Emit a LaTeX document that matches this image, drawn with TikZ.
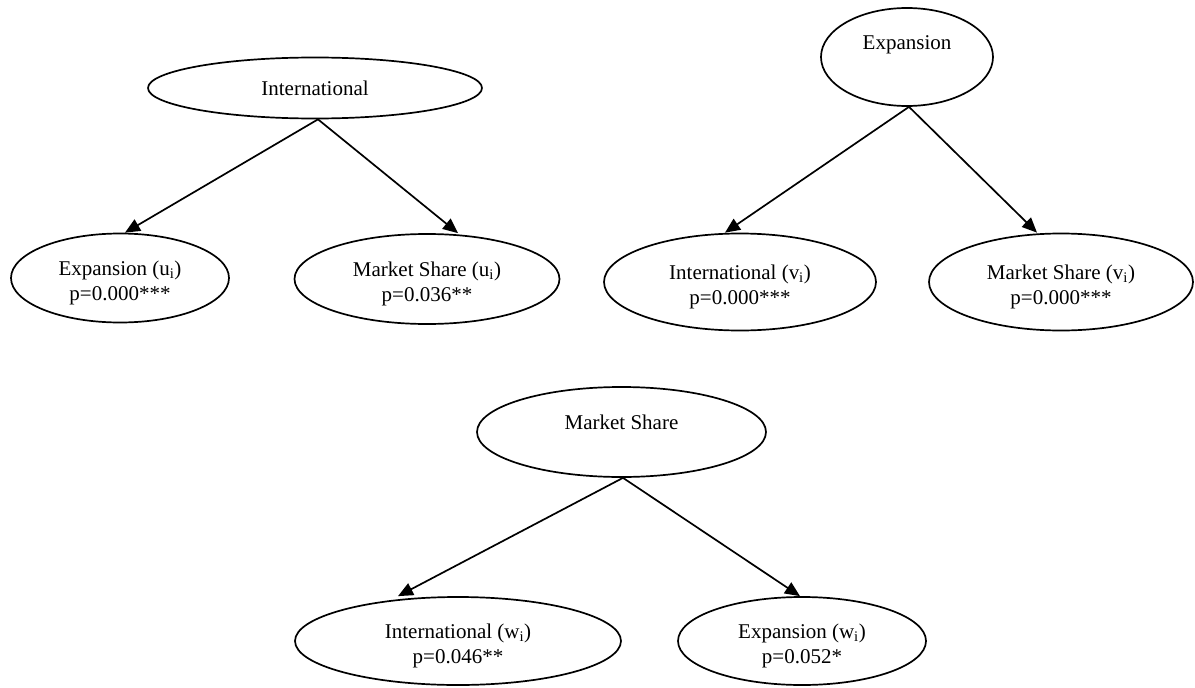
\documentclass[tikz,border=0pt]{standalone}
\usepackage{fontspec}
\setmainfont{Liberation Serif}
\usetikzlibrary{arrows.meta,shapes.geometric}
\newcommand{\mytallstrut}{\rule{0pt}{24pt}}
\begin{document}
\begin{tikzpicture}[x=1pt,y=-1pt,
  ell/.style={draw, ellipse, line width=1.7pt, inner sep=0pt, align=center,
              font=\fontsize{21}{25}\selectfont},
  lbl/.style={inner sep=0pt, font=\fontsize{21}{25}\selectfont},
  arr/.style={line width=1.7pt, -{Triangle[length=15pt,width=13pt]}}]
\useasboundingbox (0,0) rectangle (1195,688);
% top-left tree
\node[ell, minimum width=334pt, minimum height=61pt] (intl) at (315,88) {International};
\node[ell, minimum width=218pt, minimum height=89pt] (expu) at (120,278) {\mytallstrut Expansion (u\textsubscript{i})\\p=0.000***};
\node[ell, minimum width=265pt, minimum height=90pt] (msu) at (427,279) {\mytallstrut Market Share (u\textsubscript{i})\\p=0.036**};
% top-right tree
\node[ell, minimum width=172pt, minimum height=98pt] (expt) at (907,57) {};
\node[lbl] (expttext) at (907,45) {Expansion};
\node[ell, minimum width=272pt, minimum height=97pt] (intv) at (740,282) {\mytallstrut International (v\textsubscript{i})\\p=0.000***};
\node[ell, minimum width=264pt, minimum height=97pt] (msv) at (1061,282) {\mytallstrut Market Share (v\textsubscript{i})\\p=0.000***};
% bottom tree
\node[ell, minimum width=289pt, minimum height=90pt] (mkt) at (621.5,432) {};
\node[lbl] (mkttext) at (621.5,422) {Market Share};
\node[ell, minimum width=326pt, minimum height=88pt] (intw) at (458,641) {\mytallstrut International (w\textsubscript{i})\\p=0.046**};
\node[ell, minimum width=248pt, minimum height=88pt] (expw) at (802,641) {\mytallstrut Expansion (w\textsubscript{i})\\p=0.052*};
% connectors
\draw[arr] ([xshift=3pt]intl.south) -- ([xshift=5pt]expu.north);
\draw[arr] ([xshift=3pt]intl.south) -- ([xshift=31pt]msu.north);
\draw[arr] ([xshift=2pt]expt.south) -- ([xshift=-15pt]intv.north);
\draw[arr] ([xshift=2pt]expt.south) -- ([xshift=-24pt]msv.north);
\draw[arr] ([xshift=1.5pt]mkt.south) -- ([xshift=-60pt]intw.north);
\draw[arr] ([xshift=1.5pt]mkt.south) -- ([xshift=-2pt]expw.north);
\end{tikzpicture}
\end{document}
